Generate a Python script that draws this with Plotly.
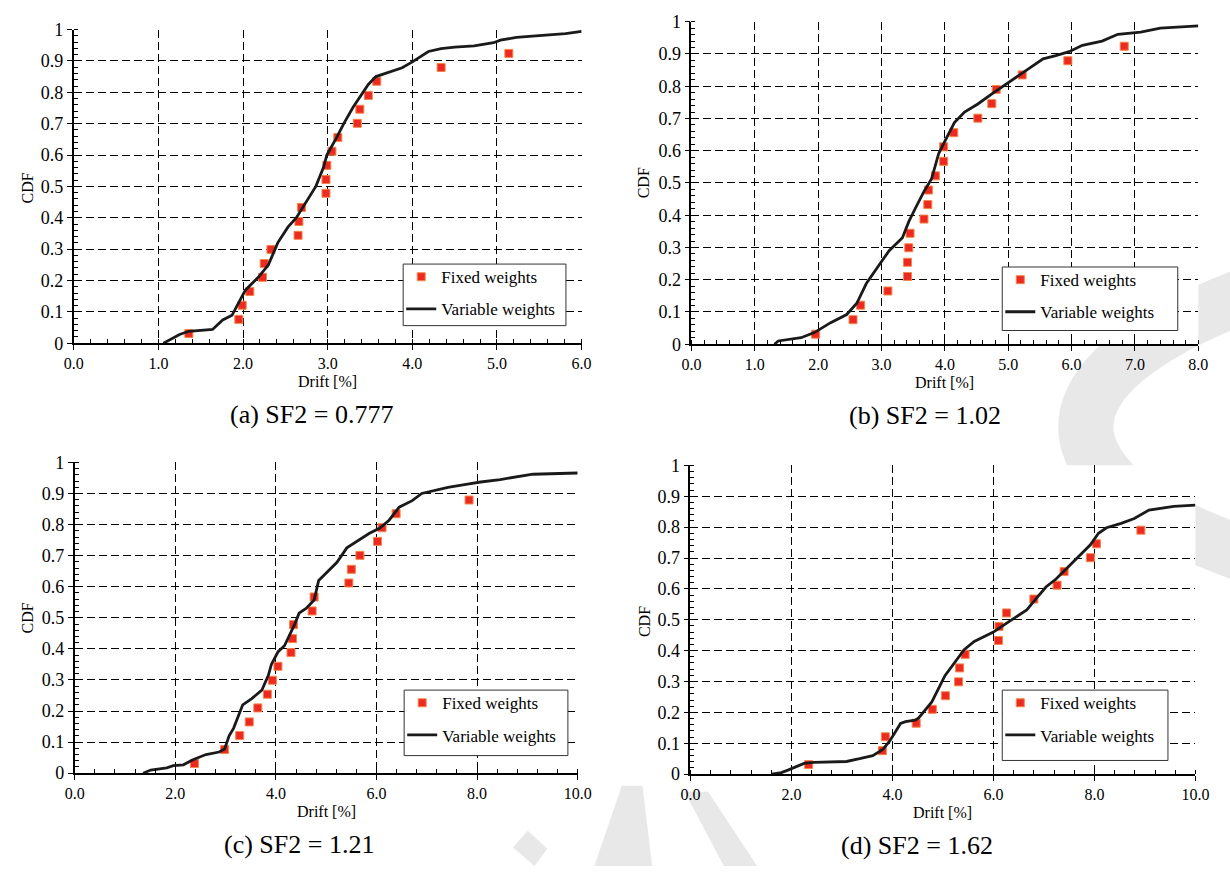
import plotly.graph_objects as go

W, H = 1230, 876

# Empirical CDF levels shared by the fixed-weight records
cdf_levels = [0.031, 0.076, 0.121, 0.165, 0.210, 0.254, 0.299, 0.344, 0.388, 0.433,
              0.478, 0.522, 0.567, 0.612, 0.656, 0.701, 0.746, 0.790, 0.835, 0.879, 0.924]

# (a) SF2 = 0.777
fixed_a_x = [1.36, 1.95, 1.99, 2.08, 2.23, 2.25, 2.33, 2.65, 2.66, 2.69, 2.98,
             2.98, 2.99, 3.05, 3.12, 3.35, 3.38, 3.48, 3.58, 4.34, 5.14]
var_a_x = [1.06, 1.20, 1.25, 1.36, 1.64, 1.76, 1.87, 1.95, 2.03, 2.18, 2.30, 2.41, 2.53,
           2.63, 2.74, 2.86, 2.95, 2.99, 3.11, 3.19, 3.30, 3.48, 3.57, 3.73, 3.88, 4.00,
           4.11, 4.19, 4.34, 4.50, 4.73, 4.96, 5.04, 5.23, 5.42, 5.81, 6.00]
var_a_y = [0.000, 0.020, 0.028, 0.038, 0.044, 0.074, 0.089, 0.130, 0.170, 0.210, 0.250, 0.320, 0.370,
           0.400, 0.450, 0.500, 0.560, 0.600, 0.658, 0.700, 0.752, 0.825, 0.850, 0.865, 0.878, 0.897,
           0.917, 0.930, 0.939, 0.944, 0.948, 0.958, 0.966, 0.975, 0.979, 0.987, 0.994]

# (b) SF2 = 1.02
fixed_b_x = [1.96, 2.55, 2.67, 3.10, 3.41, 3.41, 3.43, 3.45, 3.67, 3.73, 3.74,
             3.85, 3.98, 3.98, 4.14, 4.52, 4.74, 4.81, 5.22, 5.94, 6.83]
var_b_x = [1.31, 1.37, 1.73, 1.94, 2.19, 2.45, 2.61, 2.76, 2.97, 3.12, 3.33, 3.43, 3.53,
           3.66, 3.79, 3.90, 4.00, 4.15, 4.31, 4.52, 4.77, 5.03, 5.24, 5.55, 5.75, 5.96,
           6.17, 6.48, 6.73, 7.09, 7.40, 7.77, 8.00]
var_b_y = [0.000, 0.010, 0.020, 0.036, 0.066, 0.092, 0.127, 0.188, 0.248, 0.290, 0.330, 0.380, 0.420,
           0.470, 0.513, 0.590, 0.630, 0.687, 0.720, 0.745, 0.780, 0.815, 0.845, 0.885, 0.895, 0.907,
           0.927, 0.940, 0.961, 0.968, 0.980, 0.985, 0.987]

# (c) SF2 = 1.21
fixed_c_x = [2.38, 2.98, 3.28, 3.47, 3.64, 3.83, 3.93, 4.04, 4.30, 4.33, 4.35,
             4.72, 4.76, 5.45, 5.50, 5.67, 6.02, 6.11, 6.39, 7.84]
var_c_x = [1.36, 1.51, 1.83, 1.96, 2.16, 2.35, 2.61, 2.87, 2.98, 3.07, 3.16, 3.26, 3.34,
           3.52, 3.72, 3.85, 3.91, 4.04, 4.17, 4.37, 4.46, 4.60, 4.76, 4.85, 4.95, 5.21,
           5.41, 5.60, 5.86, 6.06, 6.25, 6.45, 6.71, 6.90, 7.29, 7.42, 7.81, 8.07, 8.46,
           8.98, 9.11, 10.0]
var_c_y = [0.000, 0.010, 0.017, 0.024, 0.027, 0.043, 0.060, 0.068, 0.078, 0.120, 0.145, 0.190, 0.220,
           0.240, 0.267, 0.315, 0.350, 0.390, 0.410, 0.478, 0.515, 0.530, 0.557, 0.620, 0.636, 0.678,
           0.725, 0.746, 0.772, 0.788, 0.814, 0.856, 0.877, 0.900, 0.914, 0.920, 0.930, 0.937, 0.945,
           0.958, 0.962, 0.966]

# (d) SF2 = 1.62
fixed_d_x = [2.34, 3.80, 3.86, 4.47, 4.79, 5.05, 5.31, 5.33, 5.44, 6.10, 6.11,
             6.26, 6.80, 7.26, 7.40, 7.92, 8.04, 8.92]
var_d_x = [1.61, 1.80, 1.93, 2.09, 2.25, 2.45, 3.09, 3.35, 3.61, 3.81, 3.94, 4.06, 4.16,
           4.26, 4.45, 4.52, 4.62, 4.78, 5.04, 5.30, 5.42, 5.62, 5.81, 6.00, 6.27, 6.46,
           6.66, 6.85, 7.04, 7.24, 7.50, 7.69, 7.92, 8.08, 8.24, 8.53, 8.79, 9.08, 9.31,
           9.57, 10.0]
var_d_y = [0.000, 0.005, 0.013, 0.025, 0.035, 0.038, 0.041, 0.050, 0.060, 0.080, 0.106, 0.137, 0.164,
           0.170, 0.175, 0.182, 0.202, 0.234, 0.319, 0.377, 0.403, 0.430, 0.446, 0.460, 0.490, 0.511,
           0.532, 0.569, 0.606, 0.632, 0.675, 0.706, 0.743, 0.780, 0.798, 0.812, 0.828, 0.855, 0.860,
           0.867, 0.871]

captions = ["(a) SF2 = 0.777", "(b) SF2 = 1.02", "(c) SF2 = 1.21", "(d) SF2 = 1.62"]
x_ranges = [6, 8, 10, 10]
x_dticks = [1.0, 1.0, 2.0, 2.0]
x_minor = [0.2, 0.2, 0.4, 0.4]
y_tickvals = [0, 0.1, 0.2, 0.3, 0.4, 0.5, 0.6, 0.7, 0.8, 0.9, 1.0]
y_ticktext = ["0", "0.1", "0.2", "0.3", "0.4", "0.5", "0.6", "0.7", "0.8", "0.9", "1"]

fixed_x = [fixed_a_x, fixed_b_x, fixed_c_x, fixed_d_x]
var_x = [var_a_x, var_b_x, var_c_x, var_d_x]
var_y = [var_a_y, var_b_y, var_c_y, var_d_y]

# Plot-area boxes in pixels: left, right, top, bottom
boxes = [(65, 583, 20, 341), (695, 1212, 12, 342), (66, 579, 463, 781), (694, 1209, 466, 782)]
# Legend frames in pixels: left, right, top, bottom
leg_boxes = [(401, 567, 260, 323), (1012, 1191, 263, 328), (402, 569, 696, 763), (1012, 1181, 696, 768)]
caption_x = [308, 933, 295, 925]
cdf_pos = [(18, 182), (647, 177), (18, 622), (647, 626)]

# Faint background marks (pixel polygons) along the lower edge
bg_marks = [
    [(528, 840), (548, 858), (535, 876), (513, 857)],
    [(624, 794), (645, 794), (655, 876), (596, 876)],
    [(688, 800), (712, 800), (762, 876), (728, 876)],
]
# Large faint curved stroke on the right (pixel control points of a cubic path)
bg_curve = [(1265, 290), (1170, 325), (1080, 380), (1100, 445),
            (1120, 505), (1200, 535), (1265, 560)]

SERIF = "Liberation Serif"


def px(x):
    return x / W


def py(y):
    return 1 - y / H


def pt(p):
    return f"{px(p[0]):.5f},{py(p[1]):.5f}"


fig = go.Figure()
layout = dict(
    width=W, height=H, margin=dict(l=0, r=0, t=0, b=0),
    paper_bgcolor="white", plot_bgcolor="white",
    font=dict(family=SERIF, color="black"),
    showlegend=True,
)
annotations = []
shapes = []

for poly in bg_marks:
    path = "M " + " L ".join(pt(p) for p in poly) + " Z"
    shapes.append(dict(type="path", path=path, xref="paper", yref="paper",
                       fillcolor="#e8e8e8", line=dict(width=0), layer="below"))
c = bg_curve
curve_path = (f"M {pt(c[0])} C {pt(c[1])} {pt(c[2])} {pt(c[3])} "
              f"C {pt(c[4])} {pt(c[5])} {pt(c[6])}")
shapes.append(dict(type="path", path=curve_path, xref="paper", yref="paper",
                   line=dict(color="#e8e8e8", width=55), layer="below"))
# White panels keep the background marks out of the plotting regions
for L, R, T, B in boxes:
    shapes.append(dict(type="rect", xref="paper", yref="paper",
                       x0=px(L), x1=px(R), y0=py(B), y1=py(T),
                       fillcolor="white", line=dict(width=0), layer="below"))


def label(text, x, y, size, angle=0):
    return dict(text=text, x=px(x), y=py(y), xref="paper", yref="paper",
                xanchor="center", yanchor="middle", showarrow=False, textangle=angle,
                font=dict(family=SERIF, size=size, color="black"))


for i in range(4):
    n = "" if i == 0 else str(i + 1)
    xa, ya = "x" + n, "y" + n
    leg = "legend" + n
    L, R, T, B = boxes[i]
    m = len(fixed_x[i])
    fig.add_trace(go.Scatter(
        x=fixed_x[i], y=cdf_levels[:m], mode="markers", name="Fixed weights",
        marker=dict(symbol="square", size=8, color="#ec2a22",
                    line=dict(color="#f4864a", width=1)),
        xaxis=xa, yaxis=ya, legend=leg, legendgroup="f" + n,
    ))
    fig.add_trace(go.Scatter(
        x=var_x[i], y=var_y[i], mode="lines", name="Variable weights",
        line=dict(color="#1a1a1a", width=2.8),
        xaxis=xa, yaxis=ya, legend=leg, legendgroup="v" + n,
    ))
    common = dict(
        showline=True, linecolor="black", linewidth=1.6,
        showgrid=True, gridcolor="black", gridwidth=1.4, griddash="8px,4px",
        zeroline=False, ticks="outside", ticklen=5, tickwidth=1.4, tickcolor="black",
    )
    layout["xaxis" + n] = dict(
        common, domain=[px(L), px(R)], anchor=ya, range=[0, x_ranges[i]],
        dtick=x_dticks[i], tick0=0, tickformat=".1f",
        tickfont=dict(family=SERIF, size=16, color="black"),
        minor=dict(ticks="inside", ticklen=4, dtick=x_minor[i], tick0=0,
                   tickcolor="black", tickwidth=1, showgrid=False),
    )
    layout["yaxis" + n] = dict(
        common, domain=[py(B), py(T)], anchor=xa, range=[0, 1],
        tickvals=y_tickvals, ticktext=y_ticktext,
        tickfont=dict(family=SERIF, size=18, color="black"),
        minor=dict(ticks="inside", ticklen=4, dtick=0.02, tick0=0,
                   tickcolor="black", tickwidth=1, showgrid=False),
    )
    lL, lR, lT, lB = leg_boxes[i]
    shapes.append(dict(type="rect", xref="paper", yref="paper",
                       x0=px(lL), x1=px(lR), y0=py(lB), y1=py(lT),
                       line=dict(color="#333333", width=1), fillcolor="white", layer="above"))
    layout[leg] = dict(
        x=px(lL - 2), y=py(lT - 5), xanchor="left", yanchor="top",
        bgcolor="rgba(0,0,0,0)", borderwidth=0, tracegroupgap=7,
        font=dict(family=SERIF, size=17, color="black"), traceorder="grouped",
    )
    annotations.append(label(captions[i], caption_x[i], B + 73, 26))
    annotations.append(label("Drift [%]", (L + R) / 2, B + 39, 16))
    qx, qy = cdf_pos[i]
    annotations.append(label("CDF", qx, qy, 16, angle=-90))

layout["annotations"] = annotations
layout["shapes"] = shapes
fig.update_layout(**layout)
fig.write_html("out.html")
